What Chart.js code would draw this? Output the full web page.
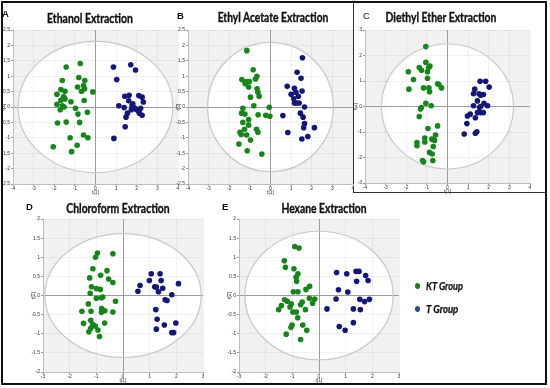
<!DOCTYPE html>
<html>
<head>
<meta charset="utf-8">
<script src="https://cdn.jsdelivr.net/npm/chart.js@4.4.1/dist/chart.umd.min.js"></script>
<style>
body { margin: 0; background: #fff; }
#wrap { position: relative; width: 550px; height: 388px; overflow: hidden; background: #fff; }
#wrap canvas { position: absolute; left: 0; top: 0; }
#frame { position: absolute; left: 1px; top: 1px; width: 542px; height: 380px; border: 2px solid #111; pointer-events: none; }
#cbox { position: absolute; left: 353px; top: 2px; width: 192px; height: 190px; border-left: 1px solid #333; border-bottom: 1px solid #333; }
.ttl { position: absolute; font-family: Lato, "Liberation Sans", sans-serif; font-weight: bold; font-size: 12.5px; line-height: 12.5px; white-space: nowrap; transform: translateX(-50%); transform-origin: center; color: #111; -webkit-text-stroke: 0.35px #111; }
.let { position: absolute; font-family: "Liberation Sans", Arial, sans-serif; font-weight: bold; font-size: 9.5px; line-height: 9.5px; color: #111; }
.leg { position: absolute; font-family: Lato, "Liberation Sans", sans-serif; font-weight: bold; font-style: italic; font-size: 10.5px; line-height: 11px; color: #111; white-space: nowrap; transform-origin: left center; -webkit-text-stroke: 0.25px #111; }
.dot { position: absolute; width: 5px; height: 6px; border-radius: 50%; }
</style>
</head>
<body>
<div id="wrap">
  <div id="cbox"></div>
  <canvas id="cA" width="550" height="388"></canvas>
  <canvas id="cB" width="550" height="388"></canvas>
  <canvas id="cC" width="550" height="388"></canvas>
  <canvas id="cD" width="550" height="388"></canvas>
  <canvas id="cE" width="550" height="388"></canvas>

  <div class="let" style="left:2px;top:9px;">A</div>
  <div class="let" style="left:177px;top:11px;">B</div>
  <div class="let" style="left:363px;top:11px;font-weight:normal;">C</div>
  <div class="let" style="left:26px;top:202px;">D</div>
  <div class="let" style="left:222px;top:202px;">E</div>

  <div class="ttl" data-w="86" style="left:90px;top:13px;">Ethanol Extraction</div>
  <div class="ttl" data-w="111" style="left:273px;top:12px;">Ethyl Acetate Extraction</div>
  <div class="ttl" data-w="111" style="left:441px;top:12px;">Diethyl Ether Extraction</div>
  <div class="ttl" data-w="103" style="left:118px;top:203px;">Chloroform Extraction</div>
  <div class="ttl" data-w="85" style="left:324px;top:203px;">Hexane Extraction</div>

  <div class="dot" style="left:415px;top:283px;background:#1a7f1a;"></div>
  <div class="leg" data-w="37" style="left:426px;top:281px;">KT Group</div>
  <div class="dot" style="left:415px;top:306px;background:#2b4a86;"></div>
  <div class="leg" data-w="32" style="left:426px;top:304px;">T Group</div>

  <div id="frame"></div>
</div>
<script>
// score values t[1], t[2]
var ethanolKT = [[-0.74,1.41],[-1.42,1.30],[-0.81,0.96],[-1.61,0.86],[-0.52,0.86],[-0.58,0.70],[-0.87,0.65],[-0.53,0.59],
  [-0.68,0.51],[-1.68,0.57],[-1.48,0.51],[-0.13,0.49],[-1.87,0.41],[-1.55,0.33],[-1.48,0.26],[-1.68,0.22],[-1.19,0.17],
  [-1.87,0.09],[-0.55,0.21],[-1.61,0.04],[-1.52,0.0],[-0.97,-0.04],[-1.71,-0.09],[-0.85,-0.23],[-0.39,-0.17],[-1.84,-0.52],
  [-1.42,-0.49],[-0.77,-0.50],[-1.23,-1.0],[-0.58,-0.91],[-0.37,-1.0],[-0.89,-1.24],[-2.05,-1.29],[-1.16,-1.45],[-1.52,0.30]];
var ethanolT = [[1.71,1.37],[0.87,1.30],[1.94,1.20],[1.03,0.89],[1.42,0.35],[1.63,0.38],[2.10,0.37],[2.26,0.32],[2.32,0.16],
  [1.61,0.20],[1.13,0.04],[1.39,-0.02],[1.77,0.04],[1.87,-0.03],[1.97,-0.07],[2.19,-0.04],[2.05,-0.11],[2.13,-0.20],
  [2.26,-0.27],[1.55,-0.20],[1.48,-0.33],[1.44,-0.64],[0.89,-1.02],[1.81,0.10],[1.74,-0.09]];

var acetateKT = [[-1.15,1.83],[-0.84,1.21],[-0.66,1.0],[-0.73,0.91],[-1.39,0.89],[-1.16,0.83],[-1.02,0.83],[-1.23,0.76],
  [-1.06,0.65],[-0.65,0.59],[-0.61,0.48],[-0.55,0.35],[-0.97,0.32],[-0.81,0.04],[-0.06,-0.01],[-1.34,-0.04],[-1.40,-0.20],
  [-1.24,-0.23],[-0.60,-0.25],[-0.23,-0.27],[-0.03,-0.30],[-1.06,-0.41],[-1.34,-0.50],[-1.06,-0.59],[-1.26,-0.72],
  [-0.68,-0.72],[-0.61,-0.82],[-1.48,-0.82],[-1.42,-0.89],[-1.16,-0.91],[-0.97,-1.07],[-1.53,-1.20],[-1.13,-1.42],[-0.42,-1.53]];
var acetateT = [[1.55,1.60],[1.29,1.13],[1.48,0.93],[0.81,0.67],[1.16,0.61],[1.53,0.52],[1.23,0.48],[1.0,0.41],[1.35,0.35],
  [1.13,0.27],[1.26,0.13],[1.39,0.13],[1.16,0.13],[1.65,0.0],[1.45,-0.20],[1.58,-0.33],[0.60,-0.28],[1.65,-0.54],
  [1.61,-0.67],[2.13,-0.67],[0.84,-0.83],[1.81,-0.96],[1.52,-1.04]];

var etherKT = [[-1.05,2.35],[-1.05,1.73],[-0.85,1.59],[-0.92,1.52],[-1.37,1.53],[-1.26,1.42],[-1.90,1.36],[-0.97,1.36],
  [-0.97,1.11],[-1.65,1.06],[-0.48,0.89],[-0.42,0.86],[-1.16,0.73],[-0.29,0.73],[-0.90,0.73],[-0.87,0.58],[-1.87,0.68],
  [-1.05,0.13],[-0.79,0.03],[-1.27,-0.04],[-1.31,-0.10],[-1.37,-0.39],[-0.48,-0.76],[-0.95,-0.86],[-0.58,-1.12],
  [-1.10,-1.24],[-0.76,-1.28],[-0.63,-1.33],[-1.48,-1.41],[-1.10,-1.39],[-1.48,-1.54],[-0.69,-1.57],[-0.87,-1.80],
  [-0.74,-1.86],[-1.21,-2.12],[-1.16,-2.17],[-0.71,-2.12]];
var etherT = [[1.58,0.99],[1.85,0.99],[1.32,0.68],[2.02,0.76],[1.26,0.50],[1.53,0.50],[1.74,0.47],[1.61,0.44],[1.45,0.22],
  [1.77,0.13],[1.26,0.03],[1.55,-0.04],[1.94,0.03],[1.61,0.0],[1.45,-0.24],[1.61,-0.24],[1.74,-0.24],[1.10,-0.30],
  [0.97,-0.37],[1.35,-0.44],[0.94,-0.67],[1.42,-0.99],[1.35,-1.05],[0.81,-1.08]];

var chloroKT = [[-0.96,1.11],[-1.03,1.0],[-0.38,1.09],[-1.13,0.70],[-0.60,0.65],[-0.84,0.53],[-1.25,0.46],[-0.54,0.43],
  [-0.38,0.34],[-1.18,0.23],[-1.0,0.18],[-0.85,0.16],[-1.23,0.06],[-1.0,-0.07],[-0.81,-0.06],[-0.76,-0.04],[-0.28,-0.15],
  [-1.30,-0.22],[-0.80,-0.34],[-1.54,-0.41],[-1.20,-0.41],[-0.68,-0.40],[-0.38,-0.43],[-0.81,-0.44],[-1.21,-0.65],
  [-1.48,-0.73],[-1.13,-0.76],[-1.04,-0.80],[-0.69,-0.72],[-1.21,-0.86],[-1.28,-0.95],[-0.94,-0.90],[-0.88,-1.07]];
var chloroT = [[1.06,0.57],[1.39,0.57],[0.64,0.26],[0.99,0.39],[1.43,0.39],[2.08,0.31],[1.19,0.23],[1.25,0.22],[1.49,0.19],
  [0.56,0.11],[1.33,0.10],[1.83,0.02],[1.58,-0.11],[1.65,-0.13],[1.23,-0.37],[1.28,-0.62],[1.98,-0.72],[1.55,-0.77],
  [1.25,-0.88],[1.83,-0.97],[1.90,-0.97]];

var hexaneKT = [[-0.91,1.28],[-0.75,1.24],[-1.30,0.91],[-1.26,0.74],[-0.94,0.70],[-0.79,0.57],[-0.86,0.48],[-0.84,0.37],
  [-0.35,0.24],[-0.49,0.16],[-0.96,0.10],[-0.79,0.10],[-0.16,-0.09],[-0.36,-0.07],[-1.29,-0.11],[-1.19,-0.15],[-0.63,-0.17],
  [-0.24,-0.20],[-0.69,-0.24],[-1.41,-0.26],[-1.04,-0.22],[-1.09,-0.30],[-1.51,-0.37],[-0.51,-0.37],[-0.98,-0.43],
  [-0.85,-0.43],[-0.80,-0.58],[-1.01,-0.77],[-1.05,-0.83],[-0.61,-0.77],[-0.46,-0.91],[-1.23,-1.01],[-0.69,-1.15]];
var hexaneT = [[0.66,0.60],[1.04,0.57],[1.39,0.63],[1.50,0.63],[1.75,0.52],[1.41,0.37],[1.84,0.39],[0.73,0.15],[1.08,0.09],
  [0.64,-0.09],[1.53,-0.10],[1.89,-0.10],[1.71,-0.16],[0.30,-0.35],[1.29,-0.35],[1.55,-0.37],[1.29,-0.71],[0.76,-0.81],
  [0.98,-0.91]];

// axis ticks
var xTicks4 = [-4, -3, -2, -1, 0, 1, 2, 3, 4];
var xTicks3 = [-3, -2, -1, 0, 1, 2, 3];
var yTicks25 = [-2.5, -2, -1.5, -1, -0.5, 0, 0.5, 1, 1.5, 2, 2.5];
var yTicks3 = [-3, -2, -1, 0, 1, 2, 3];
var yTicks2 = [-2, -1.5, -1, -0.5, 0, 0.5, 1, 1.5, 2];

var GREEN = '#16851a';
var BLUE = '#141678';

// squeeze the html labels to the widths they have in the figure
document.querySelectorAll('[data-w]').forEach(function(el) {
  var k = (+el.getAttribute('data-w')) / el.offsetWidth;
  el.style.transform = (el.classList.contains('ttl') ? 'translateX(-50%) ' : '') + 'scaleX(' + k + ')';
});

// grey plot background, white inside the Hotelling ellipse
var ellipsePlugin = {
  id: 'hotelling',
  beforeDraw: function(chart, args, opts) {
    var ctx = chart.ctx, a = chart.chartArea, x = chart.scales.x, y = chart.scales.y;
    ctx.save();
    ctx.fillStyle = '#f1f1f1';
    ctx.fillRect(a.left, a.top, a.right - a.left, a.bottom - a.top);
    var cx = x.getPixelForValue(0), cy = y.getPixelForValue(0);
    ctx.beginPath();
    ctx.ellipse(cx, cy, x.getPixelForValue(opts.rx) - cx, cy - y.getPixelForValue(opts.ry), 0, 0, Math.PI * 2);
    ctx.fillStyle = '#fff';
    ctx.fill();
    ctx.restore();
  },
  beforeDatasetsDraw: function(chart, args, opts) {
    var ctx = chart.ctx, x = chart.scales.x, y = chart.scales.y;
    var cx = x.getPixelForValue(0), cy = y.getPixelForValue(0);
    ctx.save();
    ctx.beginPath();
    ctx.ellipse(cx, cy, x.getPixelForValue(opts.rx) - cx, cy - y.getPixelForValue(opts.ry), 0, 0, Math.PI * 2);
    ctx.strokeStyle = '#c8c8c8';
    ctx.lineWidth = 1.2;
    ctx.stroke();
    ctx.restore();
  }
};

function toPts(arr) {
  return arr.map(function(p) { return {x: p[0], y: p[1]}; });
}

function makePanel(id, box, xTicks, yTicks, sep, rx, ry, kt, t) {
  var tickFont = {family: 'Liberation Sans', size: 5};
  var gridColor = function(c) { return c.tick && c.tick.value === 0 ? '#9c9c9c' : 'rgba(0,0,0,0.05)'; };
  var fmt = function(v) { return String(v).replace('.', sep); };
  return new Chart(document.getElementById(id), {
    type: 'scatter',
    data: {
      datasets: [
        {data: toPts(kt), backgroundColor: GREEN, borderWidth: 0, pointRadius: 2.8},
        {data: toPts(t), backgroundColor: BLUE, borderWidth: 0, pointRadius: 2.8}
      ]
    },
    options: {
      responsive: false,
      animation: false,
      events: [],
      layout: {padding: {left: box[0] - 12, top: box[1], right: 550 - box[2], bottom: 388 - box[3] - 12}},
      plugins: {legend: {display: false}, tooltip: {enabled: false}, hotelling: {rx: rx, ry: ry}},
      scales: {
        x: {
          type: 'linear', min: xTicks[0], max: xTicks[xTicks.length - 1],
          afterBuildTicks: function(s) { s.ticks = xTicks.map(function(v) { return {value: v}; }); },
          afterFit: function(s) { s.height = 12; },
          ticks: {font: tickFont, color: '#333', padding: 0, maxRotation: 0, callback: fmt},
          grid: {color: gridColor, tickLength: 2, tickColor: '#999'},
          border: {color: '#bdbdbd'},
          title: {display: true, text: 't[1]', font: tickFont, color: '#333', padding: 0}
        },
        y: {
          type: 'linear', min: yTicks[0], max: yTicks[yTicks.length - 1],
          afterBuildTicks: function(s) { s.ticks = yTicks.map(function(v) { return {value: v}; }); },
          afterFit: function(s) { s.width = 12; },
          ticks: {font: tickFont, color: '#333', padding: 1, callback: fmt},
          grid: {color: gridColor, tickLength: 2, tickColor: '#999'},
          border: {color: '#bdbdbd'},
          title: {display: true, text: 't[2]', font: tickFont, color: '#333', padding: 0}
        }
      }
    },
    plugins: [ellipsePlugin]
  });
}

makePanel('cA', [13, 30, 178, 184], xTicks4, yTicks25, ',', 3.75, 2.13, ethanolKT, ethanolT);
makePanel('cB', [188, 30, 353, 184], xTicks4, yTicks25, ',', 3.05, 2.1, acetateKT, acetateT);
makePanel('cC', [365, 30, 530, 183], xTicks4, yTicks3, '.', 3.2, 2.45, etherKT, etherT);
makePanel('cD', [43, 219, 203, 372], xTicks3, yTicks2, '.', 2.93, 1.62, chloroKT, chloroT);
makePanel('cE', [239, 219, 399, 372], xTicks3, yTicks2, '.', 2.78, 1.68, hexaneKT, hexaneT);
</script>
</body>
</html>
